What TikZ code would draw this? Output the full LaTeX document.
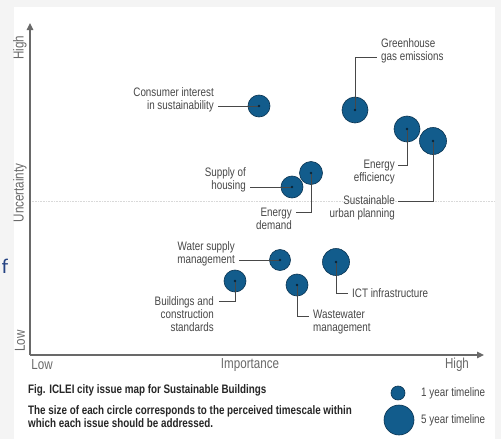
\documentclass[tikz,border=0pt]{standalone}
\usepackage{fontspec}
\setmainfont{Liberation Sans}[FakeStretch=0.8]
\newfontfamily\slidefont{Carlito}
\usetikzlibrary{arrows.meta}

\definecolor{issueblue}{RGB}{18,92,140}
\definecolor{issueedge}{RGB}{10,52,82}
\definecolor{labelgrey}{RGB}{72,72,72}
\definecolor{axisgrey}{RGB}{105,105,105}
\definecolor{slideblue}{RGB}{36,66,130}

\tikzset{
  issue/.style={circle, fill=issueblue, draw=issueedge, line width=0.6pt, inner sep=0pt},
  lbl/.style={text=labelgrey, font=\fontsize{12.3}{13}\selectfont, inner sep=0pt},
  axislbl/.style={text=axisgrey, font=\fontsize{14.5}{15}\selectfont, inner sep=0pt},
  lead/.style={draw=labelgrey, line width=0.8pt},
  axis/.style={draw=axisgrey, line width=1.3pt, -{Triangle[length=7pt,width=6.5pt]}},
  capt/.style={text=black!85, font=\bfseries\fontsize{12.3}{13}\selectfont, inner sep=0pt, align=left}
}

\begin{document}
\begin{tikzpicture}[x=1pt,y=-1pt]
                \useasboundingbox (0,0) rectangle (501,439);
                \fill[gray!9] (0,0) rectangle (501,439);
                \fill[white] (14,7) rectangle (495,439);
                \node[text=slideblue, font=\slidefont\fontsize{21}{21}\selectfont, inner sep=0pt] (frag) at (5,266) {f};

                % axes
                \coordinate (origin) at (30,355);
                \coordinate (ytop) at (30,23);
                \coordinate (xend) at (484,355);
                \draw[gray!30, densely dotted, line width=0.6pt] (origin |- 0,201) -- (495,201);
                \draw[axis] (origin) -- (ytop);
                \draw[axis] (origin) -- (xend);
                \node[axislbl, rotate=90] (yhigh) at (20,48) {High};
                \node[axislbl, rotate=90] (yname) at (20,193) {Uncertainty};
                \node[axislbl, rotate=90] (ylow) at (20,341) {Low};
                \node[axislbl] (xlow) at (42,365) {Low};
                \node[axislbl] (xname) at (250,365) {Importance};
                \node[axislbl] (xhigh) at (457,365) {High};

                % issues
                \node[issue, minimum size=22] (consumer) at (259,106) {};
                \node[issue, minimum size=26] (greenhouse) at (355,110) {};
                \node[issue, minimum size=26] (efficiency) at (407,129) {};
                \node[issue, minimum size=27] (urban) at (433,141) {};
                \node[issue, minimum size=22] (housing) at (292,187) {};
                \node[issue, minimum size=23] (demand) at (311,173) {};
                \node[issue, minimum size=21] (water) at (280,260) {};
                \node[issue, minimum size=27] (ict) at (336,262) {};
                \node[issue, minimum size=22] (buildings) at (235,281) {};
                \node[issue, minimum size=22] (wastewater) at (297,285) {};

                % labels
                \node[lbl, align=right, anchor=east] (consumerL) at (214,100) {Consumer interest\\in sustainability};
                \node[lbl, align=left, anchor=west] (greenhouseL) at (381,51) {Greenhouse\\gas emissions};
                \node[lbl, align=right, anchor=east] (efficiencyL) at (395,172) {Energy\\efficiency};
                \node[lbl, align=right, anchor=east] (urbanL) at (395,208) {Sustainable\\urban planning};
                \node[lbl, align=right, anchor=east] (housingL) at (246,180) {Supply of\\housing};
                \node[lbl, align=right, anchor=east] (demandL) at (292,219) {Energy\\demand};
                \node[lbl, align=right, anchor=east] (waterL) at (235,254) {Water supply\\management};
                \node[lbl, align=right, anchor=east] (buildingsL) at (214,314) {Buildings and\\construction\\standards};
                \node[lbl, align=left, anchor=west] (wastewaterL) at (313,322) {Wastewater\\management};
                \node[lbl, align=left, anchor=west] (ictL) at (352,293) {ICT infrastructure};

                \coordinate (consumerE) at (218,106);
                \coordinate (greenhouseE) at (377,57);
                \coordinate (efficiencyE) at (398,165);
                \coordinate (urbanE) at (398,201);
                \coordinate (housingE) at (250,187);
                \coordinate (demandE) at (296,212);
                \coordinate (waterE) at (239,260);
                \coordinate (buildingsE) at (219,301);
                \coordinate (wastewaterE) at (309,316);
                \coordinate (ictE) at (348,293);

                \draw[lead] (consumer.center) -- (consumerE); \draw[lead] (housing.center) -- (housingE); \draw[lead] (water.center) -- (waterE);
                \draw[lead] (greenhouse.center) |- (greenhouseE); \draw[lead] (efficiency.center) |- (efficiencyE); \draw[lead] (urban.center) |- (urbanE);
                \draw[lead] (demand.center) |- (demandE); \draw[lead] (buildings.center) |- (buildingsE); \draw[lead] (wastewater.center) |- (wastewaterE); \draw[lead] (ict.center) |- (ictE);
                \foreach \n in {consumer,greenhouse,efficiency,urban,housing,demand,water,ict,buildings,wastewater}
                  \fill[issueedge!70!black] (\n.center) circle (1.4);

                % caption and legend
                \node[capt, anchor=west] (title) at (28,390) {Fig. ICLEI city issue map for Sustainable Buildings};
                \node[capt, anchor=north west] (note) at (28,405) {The size of each circle corresponds to the perceived timescale within\\which each issue should be addressed.};
                \node[issue, minimum size=14] (oneyear) at (398,393) {};
                \node[issue, minimum size=30] (fiveyear) at (399,420) {};
                \node[lbl, anchor=west] (oneyearL) at (421,393) {1 year timeline};
                \node[lbl, anchor=west] (fiveyearL) at (421,420) {5 year timeline};
            \end{tikzpicture}
\end{document}
